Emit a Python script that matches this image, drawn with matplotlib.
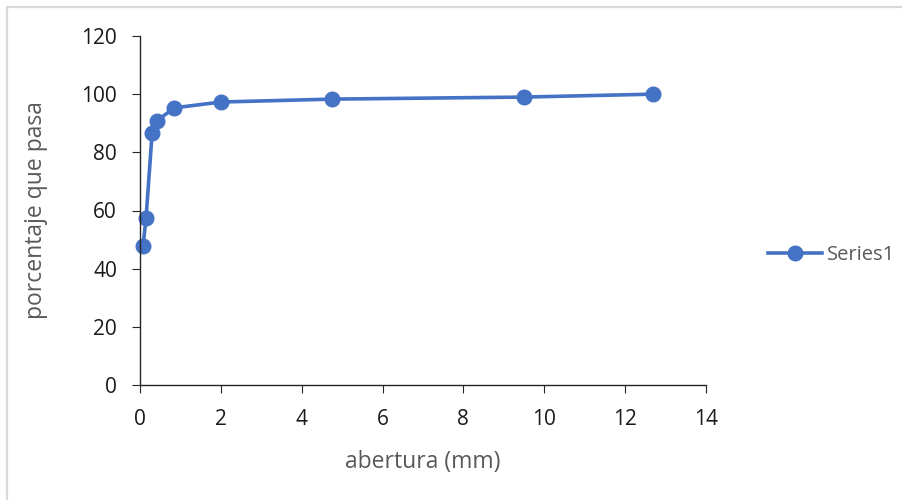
import matplotlib.pyplot as plt
from matplotlib.patches import Rectangle

abertura = [0.075, 0.15, 0.3, 0.425, 0.85, 2.0, 4.75, 9.5, 12.7]
pasa = [47.8, 57.5, 86.6, 90.9, 95.3, 97.3, 98.3, 99.0, 100.0]
x_ticks = [0, 2, 4, 6, 8, 10, 12, 14]
y_ticks = [0, 20, 40, 60, 80, 100, 120]

blue = "#4472C4"
text_gray = "#595959"

plt.rcParams["font.family"] = ["Open Sans", "DejaVu Sans"]

fig = plt.figure(figsize=(9.03, 5.0), dpi=100)
# light frame around the chart (left and top edges visible)
fig.patches.append(Rectangle((7 / 903, -0.05), 1.1, 1 - 7 / 500 + 0.05,
                             transform=fig.transFigure, fill=False,
                             edgecolor="#d9d9d9", linewidth=1.6))
ax = fig.add_axes([140 / 903, 115 / 500, 566 / 903, 349 / 500])

ax.plot(abertura, pasa, color=blue, linewidth=2.6, marker="o", markersize=10.5,
        label="Series1", clip_on=False)

ax.set_xlim(0, 14)
ax.set_ylim(0, 120)
ax.set_xticks(x_ticks)
ax.set_yticks(y_ticks)
for s in ["top", "right"]:
    ax.spines[s].set_visible(False)
for s in ["left", "bottom"]:
    ax.spines[s].set_color("#262626")
    ax.spines[s].set_linewidth(1)
ax.tick_params(axis="both", direction="out", length=5.5, colors="#262626",
               labelsize=15, labelcolor="#1a1a1a")
ax.tick_params(axis="x", pad=12)
ax.tick_params(axis="y", pad=11)

ax.set_xlabel("abertura (mm)", fontsize=16.5, color=text_gray, labelpad=14)
ax.set_ylabel("porcentaje que pasa", fontsize=16.5, color=text_gray, labelpad=24)

leg = fig.legend(loc="center left", bbox_to_anchor=(750 / 903, 1 - 255 / 500),
                 frameon=False, fontsize=14.5, handlelength=2.7, handletextpad=0.2)
for t in leg.get_texts():
    t.set_color(text_gray)

fig.savefig("out.png", dpi=100)
